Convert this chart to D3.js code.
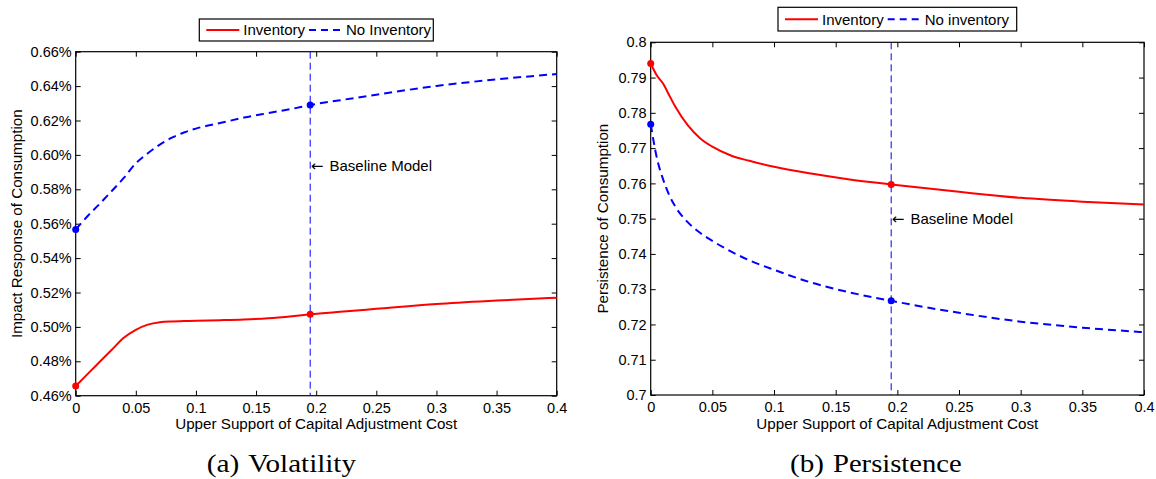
<!DOCTYPE html>
<html>
<head>
<meta charset="utf-8">
<script src="https://cdn.jsdelivr.net/npm/d3@7"></script>
<style>
  html, body { margin: 0; padding: 0; background: #fff; }
  svg { display: block; }
  text { font-family: "Liberation Sans", Arial, Helvetica, sans-serif; fill: #000; }
</style>
</head>
<body>
<svg id="chart" width="1156" height="479"></svg>
<script>
// ---------------- DATA ----------------
const xTicks = [0, 0.05, 0.1, 0.15, 0.2, 0.25, 0.3, 0.35, 0.4];
const baselineX = 0.195;

// Panel (a) Volatility
const volX = [0, 0.01, 0.02, 0.03, 0.04, 0.05, 0.06, 0.07, 0.08, 0.09, 0.1, 0.12, 0.14, 0.16, 0.18, 0.195, 0.22, 0.25, 0.3, 0.35, 0.4];
const volInventory = [0.4656, 0.4727, 0.4797, 0.4867, 0.4937, 0.4983, 0.5013, 0.5027, 0.5032, 0.5034, 0.5036, 0.5039, 0.5043, 0.5050, 0.5062, 0.5073, 0.5088, 0.5105, 0.5133, 0.5153, 0.5170];
const volNoInventory = [0.5567, 0.5645, 0.5716, 0.5790, 0.5866, 0.5951, 0.6010, 0.6060, 0.6100, 0.6130, 0.6153, 0.6185, 0.6217, 0.6243, 0.6268, 0.6290, 0.6318, 0.6350, 0.6401, 0.6439, 0.6470];
const volYTicks = [0.46, 0.48, 0.50, 0.52, 0.54, 0.56, 0.58, 0.60, 0.62, 0.64, 0.66];

// Panel (b) Persistence
const perX = [0, 0.005, 0.01, 0.015, 0.02, 0.03, 0.04, 0.05, 0.065, 0.08, 0.1, 0.13, 0.16, 0.195, 0.25, 0.3, 0.35, 0.4];
const perInventory = [0.7940, 0.7906, 0.7883, 0.7850, 0.7817, 0.7765, 0.7728, 0.7704, 0.7679, 0.7664, 0.7647, 0.7628, 0.7612, 0.7597, 0.7576, 0.7559, 0.7548, 0.7540];
const perNoInventory = [0.7768, 0.7672, 0.7612, 0.7567, 0.7534, 0.7490, 0.7460, 0.7437, 0.7407, 0.7382, 0.7355, 0.7319, 0.7292, 0.7267, 0.7233, 0.7208, 0.7191, 0.7178];
const perYTicks = [0.70, 0.71, 0.72, 0.73, 0.74, 0.75, 0.76, 0.77, 0.78, 0.79, 0.80];

const xLabel = "Upper Support of Capital Adjustment Cost";
const annotationText = "Baseline Model";

// ---------------- DRAWING ----------------
const svg = d3.select("#chart");
const RED = "#ff0000", BLUE = "#0000ff";

const panels = [
  {
    left: 75.7, right: 556.7, top: 51.7, bottom: 395.7,
    xs: volX, inv: volInventory, noinv: volNoInventory,
    yTicks: volYTicks, yFmt: d => d.toFixed(2) + "%",
    yLabel: "Impact Response of Consumption", yLabelX: 22,
    legend: { x: 199.3, y: 19, w: 234, h: 22, names: ["Inventory", "No Inventory"] },
    annotY: 0.5937,
    caption: [{ t: "(a)", x: 206.7, len: 32.6 }, { t: "Volatility", x: 248.3, len: 107.7 }]
  },
  {
    left: 650.7, right: 1144, top: 42.3, bottom: 395,
    xs: perX, inv: perInventory, noinv: perNoInventory,
    yTicks: perYTicks, yFmt: d => String(+d.toFixed(2)),
    yLabel: "Persistence of Consumption", yLabelX: 608,
    legend: { x: 778, y: 7.3, w: 238.7, h: 23.7, names: ["Inventory", "No inventory"] },
    annotY: 0.7499,
    caption: [{ t: "(b)", x: 790, len: 34 }, { t: "Persistence", x: 833, len: 128.7 }]
  }
];

panels.forEach(p => {
  const yDom = d3.extent(p.yTicks);
  const x = d3.scaleLinear().domain([0, 0.4]).range([p.left, p.right]);
  const y = d3.scaleLinear().domain(yDom).range([p.bottom, p.top]);
  const g = svg.append("g");

  // axes with inward ticks on all four sides
  const styleAxis = sel => {
    sel.select(".domain").remove();
    sel.selectAll(".tick line").attr("stroke", "#000").attr("stroke-width", 1);
    sel.selectAll("text").style("font-family", "'Liberation Sans', Arial, sans-serif").attr("fill", "#000");
  };
  g.append("g").attr("transform", `translate(0,${p.bottom})`)
    .call(d3.axisBottom(x).tickValues(xTicks).tickSize(-5).tickPadding(7).tickFormat(d => String(d)))
    .call(styleAxis).selectAll("text").style("font-size", "14.5px");
  g.append("g").attr("transform", `translate(0,${p.top})`)
    .call(d3.axisTop(x).tickValues(xTicks).tickSize(-5).tickFormat(""))
    .call(styleAxis);
  g.append("g").attr("transform", `translate(${p.left},0)`)
    .call(d3.axisLeft(y).tickValues(p.yTicks).tickSize(-5).tickPadding(4).tickFormat(p.yFmt))
    .call(styleAxis).selectAll("text").style("font-size", "14.5px");
  g.append("g").attr("transform", `translate(${p.right},0)`)
    .call(d3.axisRight(y).tickValues(p.yTicks).tickSize(-5).tickFormat(""))
    .call(styleAxis);

  // frame
  g.append("rect")
    .attr("x", p.left).attr("y", p.top)
    .attr("width", p.right - p.left).attr("height", p.bottom - p.top)
    .attr("fill", "none").attr("stroke", "#000").attr("stroke-width", 1.2);

  // baseline vertical line
  g.append("line")
    .attr("x1", x(baselineX)).attr("x2", x(baselineX))
    .attr("y1", p.top).attr("y2", p.bottom)
    .attr("stroke", BLUE).attr("stroke-width", 1).attr("stroke-dasharray", "7,4");

  // series lines
  const line = d3.line().x(d => x(d[0])).y(d => y(d[1])).curve(d3.curveMonotoneX);
  const invData = p.xs.map((v, i) => [v, p.inv[i]]);
  const noData = p.xs.map((v, i) => [v, p.noinv[i]]);
  g.append("path").datum(invData).attr("d", line)
    .attr("fill", "none").attr("stroke", RED).attr("stroke-width", 2);
  g.append("path").datum(noData).attr("d", line)
    .attr("fill", "none").attr("stroke", BLUE).attr("stroke-width", 2).attr("stroke-dasharray", "8,5");

  // markers at 0 and baseline
  const idx0 = 0, idxB = p.xs.indexOf(baselineX);
  [[invData, RED], [noData, BLUE]].forEach(([data, c]) => {
    [idx0, idxB].forEach(i => {
      g.append("circle").attr("cx", x(data[i][0])).attr("cy", y(data[i][1]))
        .attr("r", 3.5).attr("fill", c);
    });
  });

  // annotation
  g.append("text").attr("x", x(baselineX) + 0.5).attr("y", y(p.annotY)).attr("dy", "0.35em")
    .style("font-family", "'DejaVu Sans', sans-serif").style("font-size", "15px").attr("fill", "#333")
    .text("\u2190");
  g.append("text").attr("x", x(baselineX) + 19.3).attr("y", y(p.annotY)).attr("dy", "0.35em")
    .style("font-size", "15px").text(annotationText);

  // axis labels
  g.append("text").attr("x", (p.left + p.right) / 2).attr("y", 429)
    .attr("text-anchor", "middle").style("font-size", "15.2px").text(xLabel);
  g.append("text")
    .attr("transform", `translate(${p.yLabelX},${(p.top + p.bottom) / 2}) rotate(-90)`)
    .attr("text-anchor", "middle").style("font-size", "15.2px").text(p.yLabel);

  // legend
  const L = p.legend;
  const lg = g.append("g");
  lg.append("rect").attr("x", L.x).attr("y", L.y).attr("width", L.w).attr("height", L.h)
    .attr("fill", "#fff").attr("stroke", "#000").attr("stroke-width", 1.2);
  const cy = L.y + L.h / 2;
  lg.append("line").attr("x1", L.x + 7).attr("x2", L.x + 40).attr("y1", cy).attr("y2", cy)
    .attr("stroke", RED).attr("stroke-width", 2);
  lg.append("text").attr("x", L.x + 44).attr("y", cy).attr("dy", "0.36em")
    .style("font-size", "15px").text(L.names[0]);
  const invW = lg.select("text").node().getComputedTextLength();
  const bx = L.x + 44 + invW + 4;
  lg.append("line").attr("x1", bx).attr("x2", bx + 34).attr("y1", cy).attr("y2", cy)
    .attr("stroke", BLUE).attr("stroke-width", 2).attr("stroke-dasharray", "7,5");
  lg.append("text").attr("x", bx + 37).attr("y", cy).attr("dy", "0.36em")
    .style("font-size", "15px").text(L.names[1]);

  // caption
  p.caption.forEach(c => {
    svg.append("text").attr("x", c.x).attr("y", 471.5)
      .style("font-family", "'Liberation Serif', 'Times New Roman', serif")
      .style("font-size", "25px")
      .attr("textLength", c.len).attr("lengthAdjust", "spacingAndGlyphs")
      .text(c.t);
  });
});
</script>
</body>
</html>
